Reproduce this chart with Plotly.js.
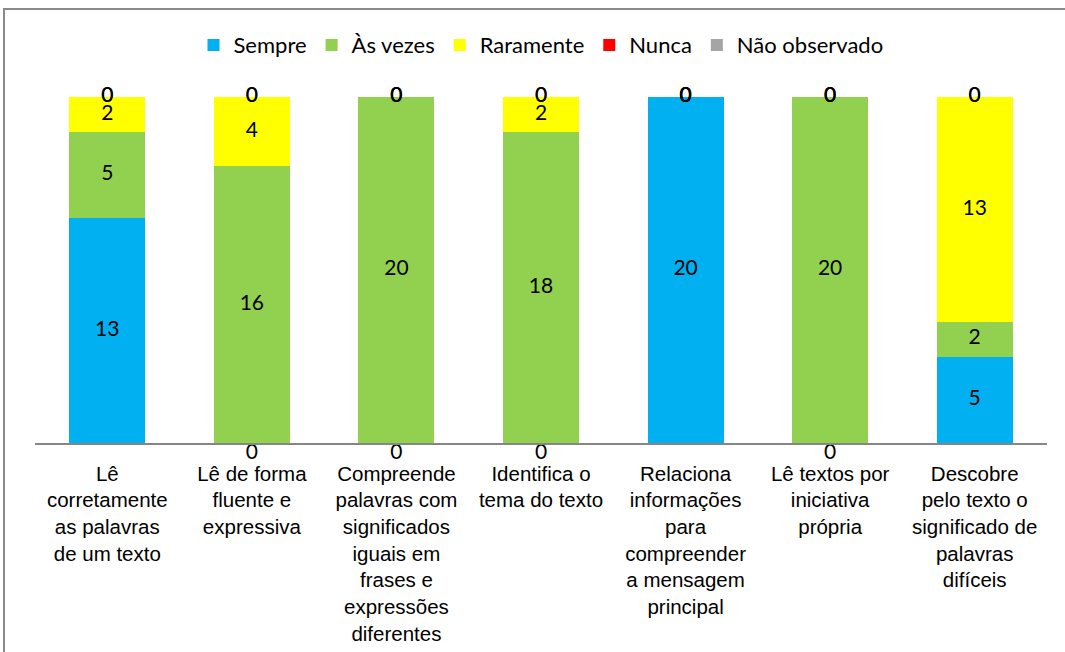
<!DOCTYPE html>
<html>
<head>
<meta charset="utf-8">
<script src="https://cdn.plot.ly/plotly-3.0.1.min.js"></script>
<style>
  html, body { margin: 0; padding: 0; background: #ffffff; overflow: hidden; }
  #frame { position: absolute; left: 3px; top: 8px; width: 1120px; height: 700px; border: 2px solid #8a8a8a; box-sizing: border-box; }
  #chart { position: absolute; left: 0; top: 0; width: 1065px; height: 652px; }
</style>
</head>
<body>
<div id="frame"></div>
<div id="chart"></div>
<script>
// ---- data ----
const categories = [
  "Lê corretamente as palavras de um texto",
  "Lê de forma fluente e expressiva",
  "Compreende palavras com significados iguais em frases e expressões diferentes",
  "Identifica o tema do texto",
  "Relaciona informações para compreender a mensagem principal",
  "Lê textos por iniciativa própria",
  "Descobre pelo texto o significado de palavras difíceis"
];
const tickLabels = [
  "Lê<br>corretamente<br>as palavras<br>de um texto",
  "Lê de forma<br>fluente e<br>expressiva",
  "Compreende<br>palavras com<br>significados<br>iguais em<br>frases e<br>expressões<br>diferentes",
  "Identifica o<br>tema do texto",
  "Relaciona<br>informações<br>para<br>compreender<br>a mensagem<br>principal",
  "Lê textos por<br>iniciativa<br>própria",
  "Descobre<br>pelo texto o<br>significado de<br>palavras<br>difíceis"
];
const seriesNames = ["Sempre", "Às vezes", "Raramente", "Nunca", "Não observado"];
const sempre       = [13, 0, 0, 0, 20, 0, 5];
const asVezes      = [5, 16, 20, 18, 0, 20, 2];
const raramente    = [2, 4, 0, 2, 0, 0, 13];
const nunca        = [0, 0, 0, 0, 0, 0, 0];
const naoObservado = [0, 0, 0, 0, 0, 0, 0];

const seriesValues = [sempre, asVezes, raramente, nunca, naoObservado];
const colors = ["#00B0F0", "#92D050", "#FFFF00", "#FF0000", "#A5A5A5"];

const labelFont = { family: "Lato, Carlito, 'Noto Sans', sans-serif", size: 21, color: "#000000" };

const traces = [];
seriesValues.forEach((vals, i) => {
  traces.push({
    type: "bar",
    name: seriesNames[i],
    x: categories,
    y: vals,
    marker: { color: colors[i], line: { width: 0 } },
    hoverinfo: "skip"
  });
});

// data labels, placed through the y scale at each segment's centre
const base = categories.map(() => 0);
seriesValues.forEach((vals, i) => {
  const ys = [], pos = [];
  vals.forEach((v, j) => {
    ys.push(base[j] + v / 2);
    pos.push(v === 0 && base[j] === 0 ? "bottom center" : "middle center");
  });
  traces.push({
    type: "scatter",
    mode: "text",
    x: categories,
    y: ys,
    text: vals.map(String),
    textposition: pos,
    textfont: labelFont,
    showlegend: false,
    hoverinfo: "skip",
    cliponaxis: false
  });
  vals.forEach((v, j) => { base[j] += v; });
});

const layout = {
  width: 1065,
  height: 652,
  paper_bgcolor: "rgba(0,0,0,0)",
  plot_bgcolor: "rgba(0,0,0,0)",
  barmode: "stack",
  bargap: 0.475,
  margin: { l: 34.5, r: 18, t: 97, b: 209, pad: 0 },
  showlegend: true,
  legend: {
    orientation: "h",
    x: 0.5, xanchor: "center",
    y: 1.15, yanchor: "middle",
    font: { family: "Lato, Carlito, 'Noto Sans', sans-serif", size: 22, color: "#000000" },
    traceorder: "normal",
    itemwidth: 30,
    bgcolor: "rgba(0,0,0,0)"
  },
  xaxis: {
    type: "category",
    tickmode: "array",
    tickvals: categories,
    ticktext: tickLabels,
    tickangle: 0,
    ticks: "",
    showline: true,
    linecolor: "#868686",
    linewidth: 2,
    showgrid: false,
    zeroline: false,
    ticklabelstandoff: 11,
    tickfont: { family: "'Liberation Sans', Arial, sans-serif", size: 20.5, color: "#000000" }
  },
  yaxis: {
    range: [0, 20],
    showticklabels: false,
    showgrid: false,
    zeroline: false,
    showline: false,
    ticks: ""
  }
};

Plotly.newPlot("chart", traces, layout, { displayModeBar: false, staticPlot: true });
</script>
</body>
</html>
